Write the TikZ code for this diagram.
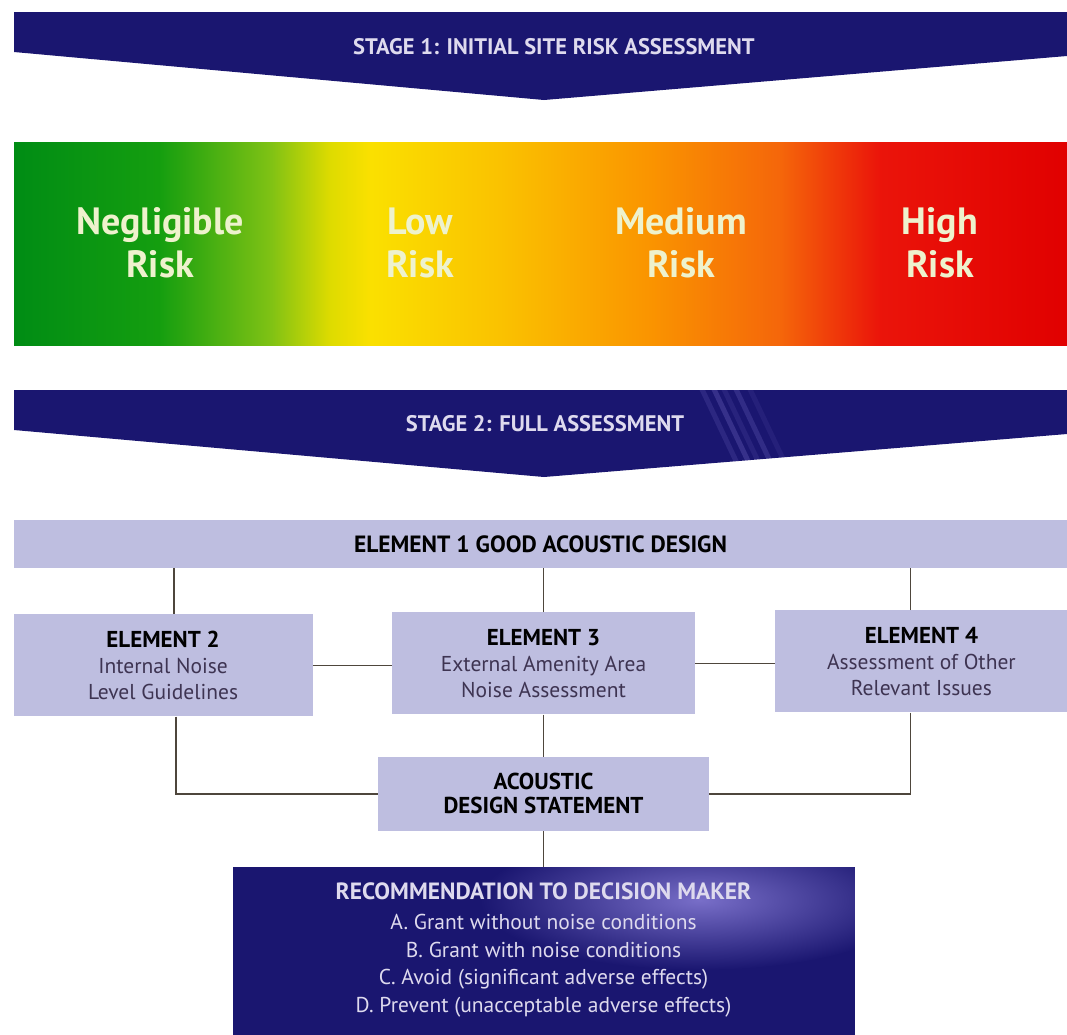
\documentclass[tikz,border=0pt]{standalone}
\usepackage{fontspec}
\setmainfont{PT Sans}
\usetikzlibrary{positioning}

\definecolor{navy}{RGB}{26,22,112}
\definecolor{navyglow}{RGB}{120,110,200}
\definecolor{lavender}{RGB}{190,190,224}
\definecolor{banner text}{RGB}{222,218,238}
\definecolor{risk text}{RGB}{238,242,205}
\definecolor{wire}{RGB}{78,70,60}
\definecolor{body text}{RGB}{62,52,82}

\pgfdeclarehorizontalshading{riskbar}{100bp}{
  rgb(0bp)=(0,0.55,0.08); rgb(25bp)=(0,0.55,0.08);
  rgb(31.9bp)=(0.08,0.62,0.06); rgb(37.2bp)=(0.5,0.76,0.08);
  rgb(40bp)=(0.87,0.86,0); rgb(41.9bp)=(0.98,0.88,0);
  rgb(48.1bp)=(0.98,0.76,0); rgb(55.2bp)=(0.98,0.58,0);
  rgb(61.4bp)=(0.96,0.4,0.04); rgb(66.1bp)=(0.92,0.08,0.04);
  rgb(75bp)=(0.88,0,0); rgb(100bp)=(0.88,0,0)}

\begin{document}
\begin{tikzpicture}[x=1pt, y=-1pt, node distance=42pt,
  stage/.style = {text=banner text, font=\bfseries\fontsize{22.5}{26}\selectfont},
  risk/.style = {text=risk text, align=center, font=\bfseries\fontsize{38}{43}\selectfont},
  elem/.style = {fill=lavender, inner sep=0pt, align=center, text=body text,
                 font=\fontsize{21.5}{26}\selectfont},
  wire/.style = {draw=wire, line width=1.8pt}]
\useasboundingbox (0,0) rectangle (1067,1034);

% stage 1 banner
\fill[navy] (14,12) -- (1067,12) -- (1067,56) -- (544,100) -- (14,52) -- cycle;
\node[stage] (stage1) at (554,47) {STAGE 1: INITIAL SITE RISK ASSESSMENT};

% risk scale
\shade[shading=riskbar] (14,142) rectangle (1067,345);
\node[risk] (negl) at (160,243) {Negligible\\Risk};
\node[risk] (low) at (420,243) {Low\\Risk};
\node[risk] (med) at (681,243) {Medium\\Risk};
\node[risk] (high) at (940,243) {High\\Risk};

% stage 2 banner
\begin{scope}
\clip (14,390) -- (1067,390) -- (1067,434) -- (544,477) -- (14,430) -- cycle;
\fill[navy] (0,380) rectangle (1067,480);
\foreach \dx/\op in {0/0.2, 12/0.3, 22/0.15, 34/0.25, 48/0.12}
  \draw[navyglow, line width=5pt, opacity=\op] (700+\dx,385) -- (745+\dx,480);
\end{scope}
\node[stage] (stage2) at (545,424) {STAGE 2: FULL ASSESSMENT};

% elements
\node[elem, minimum width=1053pt, minimum height=48pt, text=black,
      font=\bfseries\fontsize{23.5}{26}\selectfont] (e1) at (540.5,544) {ELEMENT 1 GOOD ACOUSTIC DESIGN};
\node[elem, minimum width=303pt, minimum height=102pt, below=44pt of e1, xshift=3pt] (e3)
  {\textbf{\color{black}\fontsize{23}{26}\selectfont ELEMENT 3}\\External Amenity Area\\Noise Assessment};
\node[elem, minimum width=299pt, minimum height=102pt, left=79pt of e3, yshift=-2pt] (e2)
  {\textbf{\color{black}\fontsize{23}{26}\selectfont ELEMENT 2}\\Internal Noise\\Level Guidelines};
\node[elem, minimum width=292pt, minimum height=102pt, right=80pt of e3, yshift=2pt] (e4)
  {\textbf{\color{black}\fontsize{23}{26}\selectfont ELEMENT 4}\\Assessment of Other\\Relevant Issues};
\node[elem, minimum width=331pt, minimum height=74pt, below=of e3, text=black,
      font=\bfseries\fontsize{23}{24}\selectfont] (ads) {ACOUSTIC\\DESIGN STATEMENT};
\node[fill=navy, inner sep=0pt, minimum width=622pt, minimum height=168pt,
      below=36pt of ads] (rec) {};

% glow on the recommendation box
\begin{scope}
\clip (rec.south west) rectangle (rec.north east);
\shade[inner color=navyglow, outer color=navy] (700,900) ellipse (220 and 70);
\end{scope}
\node[text=banner text, align=center, font=\fontsize{21.5}{27.5}\selectfont,
      anchor=north] (rectext) at ([yshift=-12pt]rec.north)
  {{\bfseries\fontsize{23.5}{27.5}\selectfont RECOMMENDATION TO DECISION MAKER}\\[3pt]
   A. Grant without noise conditions\\
   B. Grant with noise conditions\\
   C. Avoid (significant adverse effects)\\
   D. Prevent (unacceptable adverse effects)};

% connectors
\draw[wire] ([xshift=11pt]e2.north) -- ([xshift=11pt]e2.north |- e1.south);
\draw[wire] (e3.north) -- (e3.north |- e1.south);
\draw[wire] ([xshift=-11pt]e4.north) -- ([xshift=-11pt]e4.north |- e1.south);
\draw[wire] (e2.east) -- (e2.east -| e3.west);
\draw[wire] (e3.east) -- (e3.east -| e4.west);
\draw[wire] (e3.south) -- (e3.south |- ads.north);
\draw[wire] ([xshift=13pt]e2.south) |- (ads.west);
\draw[wire] ([xshift=-11pt]e4.south) |- (ads.east);
\draw[wire] (ads.south) -- (ads.south |- rec.north);

\end{tikzpicture}
\end{document}
